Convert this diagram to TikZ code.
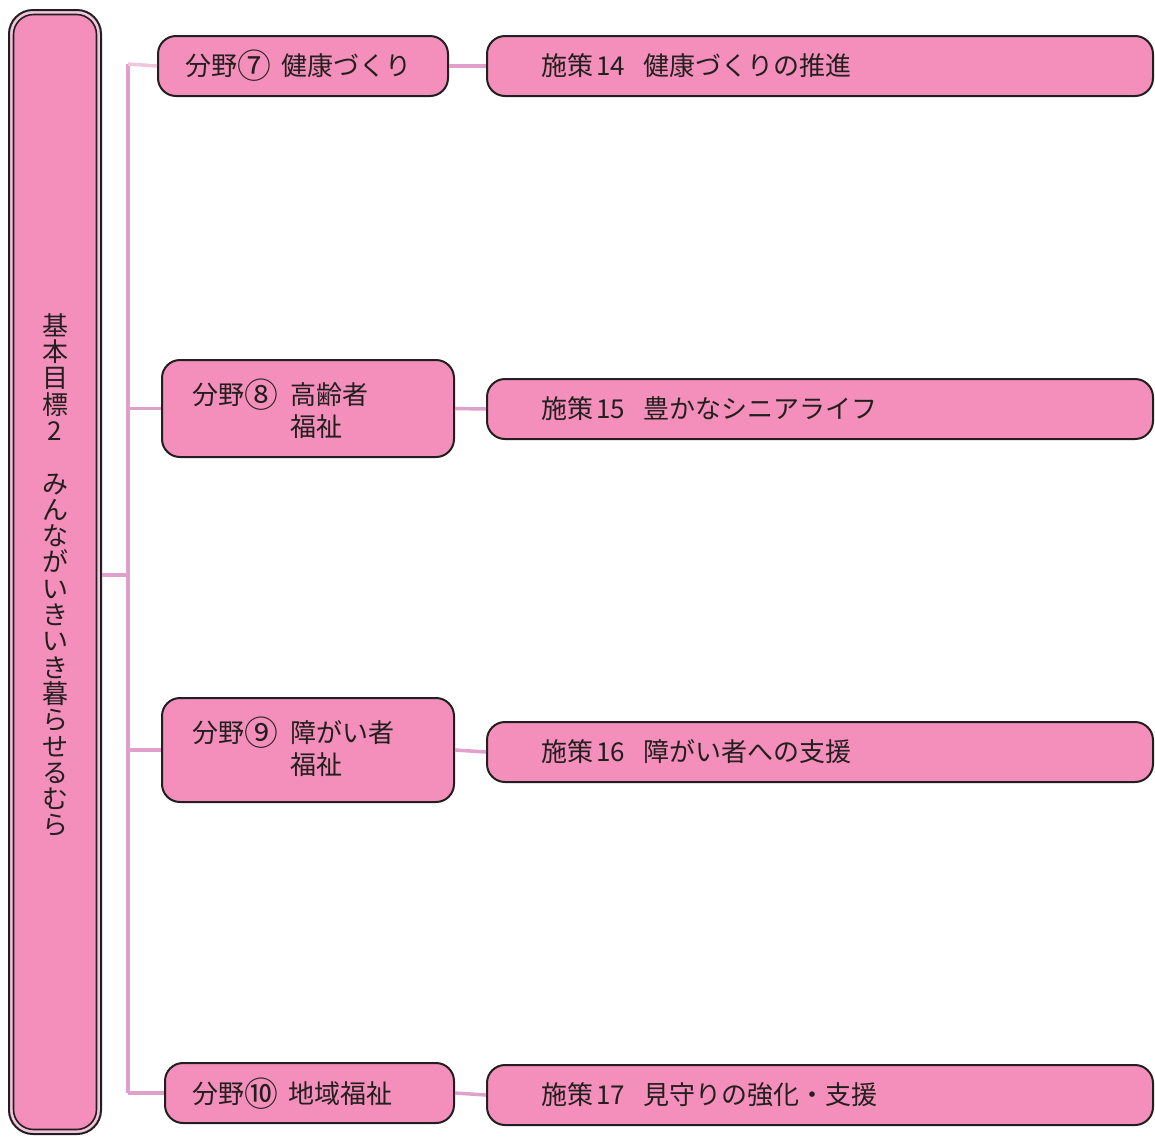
\documentclass[tikz,border=0pt]{standalone}
\usepackage{fontspec}
\setmainfont{Noto Sans CJK JP}
\definecolor{boxpink}{HTML}{F38FBA}
\definecolor{linepink}{HTML}{E0A0CC}
\definecolor{lightpink}{HTML}{F2C6DA}
\definecolor{ink}{HTML}{231F20}
\newcommand{\cnum}[1]{\raisebox{-0.12em}{\scalebox{1.3}{#1}}}
\tikzset{
  pbox/.style={draw=ink, line width=2pt, fill=boxpink, rounded corners=18pt, inner sep=0pt},
  conn/.style={draw=linepink, line width=3.5pt},
  lbl/.style={anchor=west, inner sep=0pt, text=ink, font=\fontsize{26}{32}\selectfont, align=left},
}
\begin{document}
\begin{tikzpicture}[x=1pt,y=-1pt]
\useasboundingbox (0,0) rectangle (1155,1136);
% goal box (double border)
\node[draw=ink, line width=2pt, fill=lightpink, rounded corners=24pt, minimum width=92pt, minimum height=1124pt, inner sep=0pt] (goalout) at (55,572) {};
\node[draw=ink, line width=1.6pt, fill=boxpink, rounded corners=20pt, minimum width=83pt, minimum height=1115pt, inner sep=0pt] (goal) at (55,572) {};
\node[inner sep=0pt, text=ink, align=center, font=\fontsize{26}{26.3}\selectfont] (goaltext) at (55,575)
 {基\\本\\目\\標\\2\\　\\み\\ん\\な\\が\\い\\き\\い\\き\\暮\\ら\\せ\\る\\む\\ら};
% field boxes
\node[pbox, minimum width=290pt, minimum height=60pt] (f7) at (303,66) {};
\node[pbox, minimum width=292pt, minimum height=97pt] (f8) at (308,408.5) {};
\node[pbox, minimum width=292pt, minimum height=104pt] (f9) at (308,750) {};
\node[pbox, minimum width=289pt, minimum height=60pt] (f10) at (309.5,1093) {};
% measure boxes
\node[pbox, minimum width=666pt, minimum height=60pt] (s14) at (820,66) {};
\node[pbox, minimum width=666pt, minimum height=60pt] (s15) at (820,409) {};
\node[pbox, minimum width=666pt, minimum height=60pt] (s16) at (820,752) {};
\node[pbox, minimum width=666pt, minimum height=60pt] (s17) at (820,1095) {};
% labels
\node[lbl] (t7) at (185,66) {分野\cnum{⑦}\hspace{10pt}健康づくり};
\node[lbl] (t8) at (192,411) {分野\cnum{⑧}\hspace{12pt}高齢者\\\phantom{分野\cnum{⑧}}\hspace{12pt}福祉};
\node[lbl] (t9) at (192,749) {分野\cnum{⑨}\hspace{12pt}障がい者\\\phantom{分野\cnum{⑨}}\hspace{12pt}福祉};
\node[lbl] (t10) at (192,1094) {分野\cnum{⑩}\hspace{10pt}地域福祉};
\node[lbl] (u14) at (541,66) {施策\hspace{3pt}14\hspace{18pt}健康づくりの推進};
\node[lbl] (u15) at (541,409) {施策\hspace{3pt}15\hspace{18pt}豊かなシニアライフ};
\node[lbl] (u16) at (541,752) {施策\hspace{3pt}16\hspace{18pt}障がい者への支援};
\node[lbl] (u17) at (541,1095) {施策\hspace{3pt}17\hspace{18pt}見守りの強化・支援};
% connectors
\coordinate (tt) at (128,64);
\coordinate (tb) at (128,1093);
\coordinate (tm) at (128,575);
\draw[conn] (tt) -- (tb);
\draw[conn] (goalout.east |- tm) -- (tm);
\draw[conn, draw=lightpink] (tt) -- (f7.west);
\draw[conn] (tt |- f8.west) -- (f8.west);
\draw[conn] (tt |- f9.west) -- (f9.west);
\draw[conn] (tb) -- (f10.west);
\draw[conn] (f7.east) -- (s14.west);
\draw[conn] (f8.east) -- (s15.west);
\draw[conn] (f9.east) -- (s16.west);
\draw[conn] (f10.east) -- (s17.west);
\end{tikzpicture}
\end{document}
